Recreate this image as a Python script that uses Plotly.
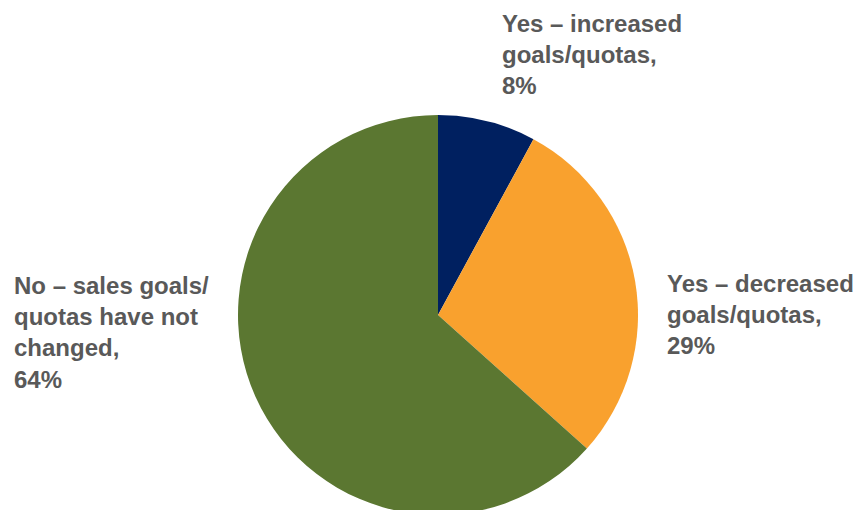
import plotly.graph_objects as go

W, H = 860, 530

categories = ["Yes – increased goals/quotas", "Yes – decreased goals/quotas",
              "No – sales goals/quotas have not changed"]
label_lines = [["Yes – increased", "goals/quotas,"],
               ["Yes – decreased", "goals/quotas,"],
               ["No – sales goals/", "quotas have not", "changed,"]]
values = [8, 29, 64]
colors = ["#002060", "#F9A12E", "#5B7731"]

# label anchor positions (pixels, left/top)
label_pos = [(500, 8), (665, 268), (12, 270)]

cx, cy, r = 438, 315, 200

fig = go.Figure(go.Pie(
    labels=categories, values=values, sort=False, direction="clockwise",
    rotation=0, textinfo="none", hoverinfo="label+percent",
    marker=dict(colors=colors, line=dict(width=0)),
    domain=dict(x=[(cx - r) / W, (cx + r) / W],
                y=[(H - (cy + r)) / H, (H - (cy - r)) / H]),
    showlegend=False,
))

for lines, v, (px, py) in zip(label_lines, values, label_pos):
    fig.add_annotation(
        text="<br>".join(lines + [f"{v}%"]),
        x=px / W, y=1 - py / H, xref="paper", yref="paper",
        xanchor="left", yanchor="top", align="left", showarrow=False,
        font=dict(family="Liberation Sans, Arial", size=24, color="#595959",
                  weight="bold"),
    )

fig.update_layout(
    width=W, height=H, margin=dict(l=0, r=0, t=0, b=0),
    paper_bgcolor="white", plot_bgcolor="white",
    font=dict(family="Liberation Sans, Arial", color="#595959"),
)

fig.write_html("out.html")
